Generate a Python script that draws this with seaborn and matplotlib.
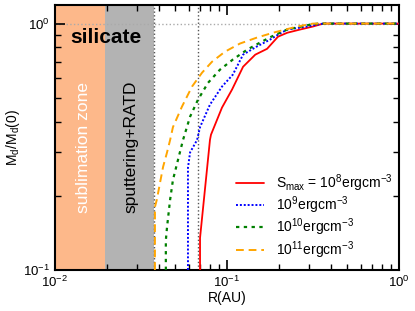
import numpy as np
import pandas as pd
import seaborn as sns
import matplotlib
matplotlib.use("Agg")
import matplotlib.pyplot as plt
from matplotlib.ticker import LogLocator, NullFormatter

r_1e8 = [0.0697, 0.0697, 0.0796, 0.0807, 0.0935, 0.107, 0.124, 0.146, 0.171, 0.198, 0.224, 0.266, 0.316, 0.362, 1.0]
m_1e8 = [0.100, 0.135, 0.337, 0.354, 0.456, 0.540, 0.668, 0.748, 0.790, 0.885, 0.918, 0.946, 0.973, 1.0, 1.0]

r_1e9 = [0.0593, 0.0593, 0.061, 0.067, 0.0697, 0.0796, 0.0935, 0.108, 0.124, 0.149, 0.178, 0.198, 0.224, 0.292, 0.362, 1.0]
m_1e9 = [0.100, 0.260, 0.300, 0.337, 0.380, 0.469, 0.555, 0.620, 0.748, 0.807, 0.861, 0.902, 0.946, 0.973, 1.0, 1.0]

r_1e10 = [0.0441, 0.0441, 0.0448, 0.0467, 0.0485, 0.0519, 0.0555, 0.061, 0.0678, 0.0776, 0.091, 0.108, 0.131, 0.156, 0.178, 0.224, 0.304, 0.34, 1.0]
m_1e10 = [0.100, 0.132, 0.149, 0.193, 0.232, 0.280, 0.337, 0.419, 0.491, 0.575, 0.650, 0.714, 0.784, 0.838, 0.880, 0.946, 0.990, 1.0, 1.0]

r_1e11 = [0.0381, 0.0381, 0.0391, 0.0408, 0.0425, 0.0448, 0.0467, 0.0485, 0.0547, 0.0626, 0.0716, 0.0818, 0.0973, 0.119, 0.149, 0.185, 0.256, 0.316, 1.0]
m_1e11 = [0.100, 0.180, 0.193, 0.226, 0.262, 0.300, 0.337, 0.380, 0.460, 0.555, 0.632, 0.700, 0.769, 0.830, 0.877, 0.918, 0.973, 1.0, 1.0]

r_sub = 0.0195    # end of sublimation zone
r_sput = 0.0376   # end of sputtering+RATD zone
r_line2 = 0.068

labels = [r"S$_{\rm max}$ = 10$^{8}$ergcm$^{-3}$",
          r"10$^{9}$ergcm$^{-3}$",
          r"10$^{10}$ergcm$^{-3}$",
          r"10$^{11}$ergcm$^{-3}$"]

sns.set_style("ticks")
plt.rcParams["font.family"] = ["Liberation Sans", "DejaVu Sans"]
plt.rcParams["mathtext.fontset"] = "custom"
plt.rcParams["mathtext.rm"] = "Liberation Sans"
plt.rcParams["mathtext.it"] = "Liberation Sans:italic"
plt.rcParams["mathtext.bf"] = "Liberation Sans:bold"
plt.rcParams["text.color"] = "black"
plt.rcParams["axes.labelcolor"] = "black"
plt.rcParams["axes.edgecolor"] = "black"
plt.rcParams["axes.axisbelow"] = False
plt.rcParams["xtick.color"] = "black"
plt.rcParams["ytick.color"] = "black"
plt.rcParams["xtick.minor.visible"] = True
plt.rcParams["ytick.minor.visible"] = True

fig = plt.figure(figsize=(4.15, 3.11), dpi=100)
ax = fig.add_axes([0.1325, 0.132, 0.829, 0.852])

ax.axvspan(0.01, r_sub, color="#fdb88a", lw=0, zorder=0)
ax.axvspan(r_sub, r_sput, color="#b3b3b3", lw=0, zorder=0)
ax.axhline(1.0, color="#aaaaaa", ls=":", lw=1, zorder=1)
ax.axvline(r_sput, color="#555555", ls=":", lw=1, zorder=1)
ax.axvline(r_line2, color="#555555", ls=":", lw=1, zorder=1)

series = [(r_1e8, m_1e8, "red", "-", 1.3),
          (r_1e9, m_1e9, "blue", (0, (1, 1)), 1.4),
          (r_1e10, m_1e10, "green", (0, (1.5, 2)), 1.6),
          (r_1e11, m_1e11, "orange", (0, (4, 2.5)), 1.4)]

for (r, m, c, ls, lw), lab in zip(series, labels):
    df = pd.DataFrame({"R": r, "M": m})
    sns.lineplot(data=df, x="R", y="M", ax=ax, color=c, linestyle=ls, lw=lw,
                 sort=False, estimator=None, label=lab, zorder=3)

ax.set_xscale("log")
ax.set_yscale("log")
ax.set_xlim(0.01, 1.0)
ax.set_ylim(0.1, 1.19)
for axis in (ax.xaxis, ax.yaxis):
    axis.set_major_locator(LogLocator(base=10))
    axis.set_minor_locator(LogLocator(base=10, subs=np.arange(2, 10), numticks=20))
    axis.set_minor_formatter(NullFormatter())

ax.text(0.0147, 0.315, "sublimation zone", rotation=90, color="white",
        fontsize=12.5, ha="center", va="center")
ax.text(0.0278, 0.315, "sputtering+RATD", rotation=90, color="black",
        fontsize=12.5, ha="center", va="center")
ax.text(0.0198, 0.88, "silicate", fontsize=15, fontweight="bold",
        ha="center", va="center")

ax.set_xlabel("R(AU)", fontsize=10, labelpad=1)
ax.set_ylabel(r"M$_{\rm d}$/M$_{\rm d}$(0)", fontsize=10, labelpad=1)
ax.tick_params(which="both", direction="in", top=True, right=True,
               labelsize=9.5, color="black")
ax.tick_params(which="major", length=7, width=1.2)
ax.tick_params(which="minor", length=4, width=1.0)
ax.tick_params(axis="x", which="major", pad=3.5)
for s in ax.spines.values():
    s.set_linewidth(1.5)

ax.legend(loc="lower right", bbox_to_anchor=(1.017, -0.012), frameon=False,
          fontsize=10, handlelength=2.0, labelspacing=0.05, handletextpad=0.85)

fig.savefig("out.png", dpi=100)
